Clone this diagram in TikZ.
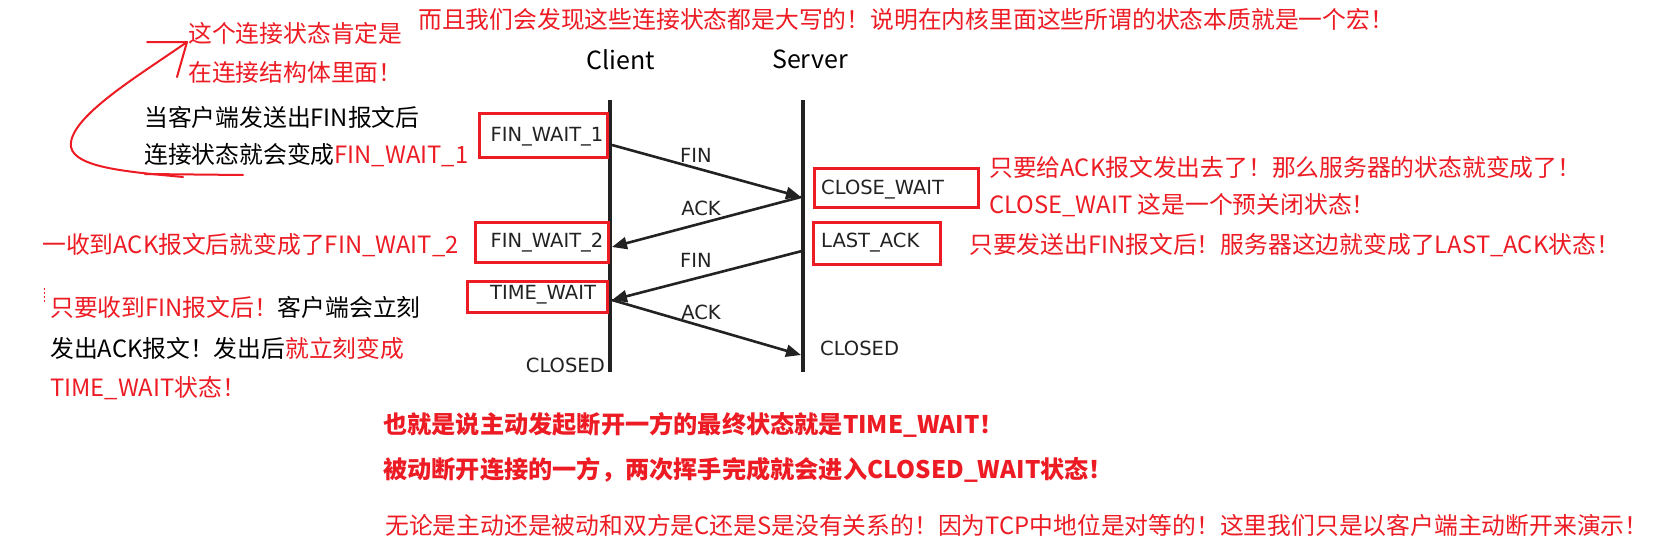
\documentclass[tikz,border=0pt]{standalone}
\usepackage{fontspec}
\setmainfont{Noto Sans CJK SC}
\newfontfamily\dfont{DejaVu Sans}
\usetikzlibrary{arrows.meta}
\definecolor{ared}{RGB}{237,28,36}
\definecolor{dgray}{RGB}{34,34,34}
\tikzset{
  ann/.style={font=\fontsize{23.8}{24}\selectfont, text=ared, anchor=west, inner sep=0pt},
  bann/.style={ann, text=black},
  hann/.style={ann, font=\fontsize{24.2}{25}\selectfont\bfseries},
  hdr/.style={font=\fontsize{25}{26}\selectfont, text=black, inner sep=0pt},
  stxt/.style={font=\dfont\fontsize{19.5}{20}\selectfont, text=dgray, inner sep=0pt},
  sbox/.style={draw=ared, line width=3pt, inner sep=0pt},
  life/.style={line width=3.6pt, draw=dgray},
  msg/.style={line width=2.6pt, draw=dgray, -{Triangle[length=15pt,width=12pt]}},
  hand/.style={draw=ared, line width=2pt, line cap=round, line join=round}
}
\begin{document}
\begin{tikzpicture}[x=1pt,y=-1pt]
\useasboundingbox (0,0) rectangle (1660,554);
\fill[white] (0,0) rectangle (1660,554);

% headers
\node[hdr] (client) at (621,60) {Client};
\node[hdr] (server) at (810,59) {Server};

% lifelines
\coordinate (ct) at (610,100); \coordinate (cb) at (610,372);
\coordinate (st) at (803,100); \coordinate (sb) at (803,372);
\draw[life] (ct) -- (cb);
\draw[life] (st) -- (sb);

% state boxes
\node[sbox, minimum width=128pt, minimum height=44pt] (b1) at (543,135) {};
\node[sbox, minimum width=164pt, minimum height=39pt] (b2) at (896,187.5) {};
\node[sbox, minimum width=127pt, minimum height=42pt] (b3) at (876.5,243) {};
\node[sbox, minimum width=133pt, minimum height=40pt] (b4) at (541.5,242) {};
\node[sbox, minimum width=140pt, minimum height=31pt] (b5) at (537,296.5) {};

% state texts
\node[stxt] (s1) at (547,137) {FIN\_WAIT\_1};
\node[stxt, anchor=west] (s2) at (821,190) {CLOSE\_WAIT};
\node[stxt, anchor=west] (s3) at (821,243) {LAST\_ACK};
\node[stxt] (s4) at (547,243) {FIN\_WAIT\_2};
\node[stxt] (s5) at (543,295) {TIME\_WAIT};
\node[stxt, anchor=west] (s6) at (820,348) {CLOSED};
\node[stxt, anchor=east] (s7) at (605,365) {CLOSED};

% messages
\coordinate (m1a) at (612,145); \coordinate (m1b) at (801,197);
\coordinate (m2a) at (801,197); \coordinate (m2b) at (612,247);
\coordinate (m3a) at (802,251); \coordinate (m3b) at (612,300);
\coordinate (m4a) at (612,300); \coordinate (m4b) at (801,355);
\draw[msg] (m1a) -- (m1b);
\draw[msg] (m2a) -- (m2b);
\draw[msg] (m3a) -- (m3b);
\draw[msg] (m4a) -- (m4b);
\node[stxt] (l1) at (696,155) {FIN};
\node[stxt] (l2) at (701,208) {ACK};
\node[stxt] (l3) at (696,260) {FIN};
\node[stxt] (l4) at (701,312) {ACK};

% top annotations
\node[ann] (t0) at (418,19) {而且我们会发现这些连接状态都是大写的！说明在内核里面这些所谓的状态本质就是一个宏！};
\node[ann] (t1) at (188,33) {这个连接状态肯定是};
\node[ann] (t2) at (188,72) {在连接结构体里面！};
\node[bann] (t3) at (144,117) {当客户端发送出FIN报文后};
\node[bann] (t4) at (144,155) {连接状态就会变成\textcolor{ared}{FIN\_WAIT\_1}};

% hand-drawn arrow
\coordinate (h0) at (183,177);
\coordinate (h1) at (187,42);
\coordinate (h2) at (147,42);
\coordinate (h3) at (177,77);
\coordinate (u1) at (145,174);
\coordinate (u2) at (243,175);
\draw[hand] (h0) .. controls (130,172) and (75,168) .. (71,147) .. controls (67,118) and (140,75) .. (h1);
\draw[hand] (h2) -- (h1) -- (h3);
\draw[hand] (u1) -- (u2);

% right annotations
\node[ann] (r1) at (989,167) {只要给ACK报文发出去了！那么服务器的状态就变成了！};
\node[ann] (r2) at (989,205) {CLOSE\_WAIT 这是一个预关闭状态！};
\node[ann] (r3) at (969,245) {只要发送出FIN报文后！服务器这边就变成了LAST\_ACK状态！};

% left annotations
\node[ann] (a1) at (42,245) {一收到ACK报文后就变成了FIN\_WAIT\_2};
\draw[ared, line width=0.8pt, dash pattern=on 2pt off 2pt] (44,288) -- (44,303);
\node[ann] (a2) at (50,307) {只要收到FIN报文后！\textcolor{black}{客户端会立刻}};
\node[bann] (a3) at (50,348) {发出ACK报文！发出后\textcolor{ared}{就立刻变成}};
\node[ann] (a4) at (50,388) {TIME\_WAIT状态！};

% bottom
\node[hann] (c1) at (383,425) {也就是说主动发起断开一方的最终状态就是TIME\_WAIT！};
\node[hann] (c2) at (383,470) {被动断开连接的一方，两次挥手完成就会进入CLOSED\_WAIT状态！};
\node[ann] (c3) at (385,525) {无论是主动还是被动和双方是C还是S是没有关系的！因为TCP中地位是对等的！这里我们只是以客户端主动断开来演示！};
\end{tikzpicture}
\end{document}
